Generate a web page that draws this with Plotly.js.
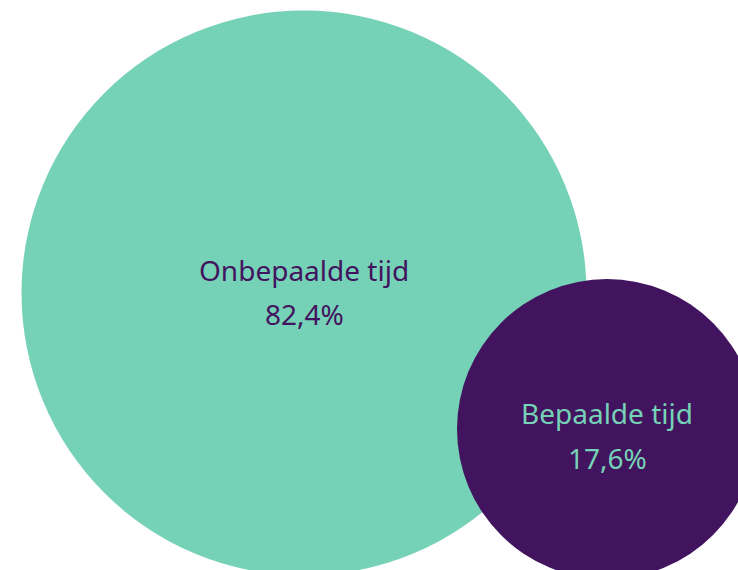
<!DOCTYPE html>
<html>
<head>
<meta charset="utf-8">
<script src="https://cdn.plot.ly/plotly-3.0.1.min.js"></script>
<style>html,body{margin:0;padding:0;background:#fff;}#chart{width:738px;height:570px;}</style>
</head>
<body>
<div id="chart"></div>
<script>
// Data
var categories = ["Onbepaalde tijd", "Bepaalde tijd"];
var shares = [82.4, 17.6];
var valueLabels = ["82,4%", "17,6%"];

// Layout of bubbles (positions in chart space, sizes in pixels)
var bubbleX = [304, 607];
var bubbleY = [293, 429];
var bubbleDiam = [565, 300];
var labelY = [270, 413];
var valueY = [314, 458];
var fillColors = ["#76D2B6", "#42145F"];
var textColors = ["#42145F", "#76D2B6"];

var trace = {
  type: "scatter",
  mode: "markers",
  x: bubbleX,
  y: bubbleY,
  customdata: shares,
  marker: {size: bubbleDiam, color: fillColors, opacity: 1, line: {width: 0}},
  hoverinfo: "skip",
  cliponaxis: true
};

var annotations = [];
for (var i = 0; i < categories.length; i++) {
  annotations.push({x: bubbleX[i], y: labelY[i], xref: "x", yref: "y", text: categories[i],
    showarrow: false, font: {family: "Noto Sans", size: 28, color: textColors[i]}});
  annotations.push({x: bubbleX[i], y: valueY[i], xref: "x", yref: "y", text: valueLabels[i],
    showarrow: false, font: {family: "Noto Sans", size: 28, color: textColors[i]}});
}

var layout = {
  width: 738, height: 570,
  margin: {l: 0, r: 0, t: 0, b: 0},
  paper_bgcolor: "#ffffff", plot_bgcolor: "#ffffff",
  showlegend: false,
  xaxis: {range: [0, 738], visible: false, fixedrange: true},
  yaxis: {range: [570, 0], visible: false, fixedrange: true},
  annotations: annotations
};

Plotly.newPlot("chart", [trace], layout, {displayModeBar: false, staticPlot: true});
</script>
</body>
</html>
